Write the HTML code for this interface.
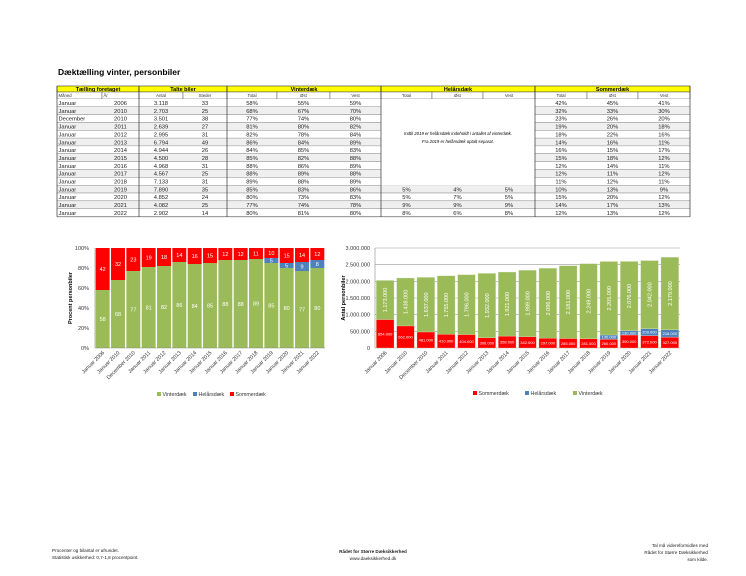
<!DOCTYPE html>
<html><head><meta charset="utf-8"><style>
html,body{margin:0;padding:0;background:#fff;}
svg{display:block;font-family:"Liberation Sans",sans-serif;}
</style></head><body>
<svg id="page" width="746" height="576" viewBox="0 0 746 576" xmlns="http://www.w3.org/2000/svg">
<text x="58" y="75" font-size="8.5" font-weight="bold">Dæktælling vinter, personbiler</text>
<g id="table"></g>
<g id="chart1"></g>
<g id="chart2"></g>
<g font-size="4.6" fill="#222">
<text x="52" y="552">Procenter og bilantal er afrundet.</text>
<text x="52" y="559">Statistisk usikkerhed: 0,7-1,8 procentpoint.</text>
<text x="373" y="553" text-anchor="middle" font-weight="bold">Rådet for Større Dæksikkerhed</text>
<text x="373" y="560" text-anchor="middle">www.daeksikkerhed.dk</text>
<text x="708" y="547" text-anchor="end">Tal må videreformidles med</text>
<text x="708" y="554" text-anchor="end">Rådet for Større Dæksikkerhed</text>
<text x="708" y="561" text-anchor="end">som kilde.</text>
</g>
</svg>
<script>
const NS="http://www.w3.org/2000/svg";
// ---- data ----
const categories=["Januar 2006","Januar 2010","December 2010","Januar 2011","Januar 2012","Januar 2013","Januar 2014","Januar 2015","Januar 2016","Januar 2017","Januar 2018","Januar 2019","Januar 2020","Januar 2021","Januar 2022"];
const months=["Januar","Januar","December","Januar","Januar","Januar","Januar","Januar","Januar","Januar","Januar","Januar","Januar","Januar","Januar"];
const years=["2006","2010","2010","2011","2012","2013","2014","2015","2016","2017","2018","2019","2020","2021","2022"];
const countedCars=["3.118","2.703","3.501","2.639","2.995","6.794","4.944","4.500","4.968","4.567","7.133","7.890","4.852","4.082","2.902"];
const places=["33","25","38","27","31","49","26","28","31","25","31","35","24","25","14"];
const winterPct=[58,68,77,81,82,86,84,85,88,88,89,85,80,77,80];
const winterEast=[55,67,74,80,78,84,85,82,86,89,88,83,73,74,81];
const winterWest=[59,70,80,82,84,89,83,88,89,88,89,86,83,78,80];
const allPct=[0,0,0,0,0,0,0,0,0,0,0,5,5,9,8];
const allEast=[0,0,0,0,0,0,0,0,0,0,0,4,7,9,6];
const allWest=[0,0,0,0,0,0,0,0,0,0,0,5,5,9,8];
const summerPct=[42,32,23,19,18,14,16,15,12,12,11,10,15,14,12];
const summerEast=[45,33,26,20,22,16,15,18,14,11,12,13,20,17,13];
const summerWest=[41,30,20,18,16,11,17,12,11,12,11,9,12,13,12];
const pctTicks=["0%","20%","40%","60%","80%","100%"];
const winterCount=[1173000,1438000,1637000,1755000,1796000,1932000,1921000,1989000,2096000,2181000,2249000,2205000,2076000,2042000,2179000];
const allCount=[0,0,0,0,0,0,0,0,0,0,0,130000,130000,209000,218000];
const summerCount=[854000,662000,481000,410000,404000,306000,358000,342000,297000,285000,281000,260000,390000,372000,327000];
const countTicks=[0,500000,1000000,1500000,2000000,2500000,3000000];

function el(tag,attrs,parent,txt){const e=document.createElementNS(NS,tag);for(const k in attrs)e.setAttribute(k,attrs[k]);if(txt!==undefined)e.textContent=txt;parent.appendChild(e);return e;}
function fmt(n){return String(n).replace(/\B(?=(\d{3})+(?!\d))/g,".");}
const GREEN="#9bbb59",RED="#ff0000",BLUE="#4f81bd";

// ---- table ----
const T=document.getElementById('table');
const cols=[57,102,139,183,227,277,330,381,432,483,535,587,638,690];
const top0=86,hh=6,sh=7,rowH=7.85,r0=top0+hh+sh;
const groups=[["Tælling foretaget",0,2],["Talte biler",2,4],["Vinterdæk",4,7],["Helårsdæk",7,10],["Sommerdæk",10,13]];
groups.forEach(g=>{
  const r=el('rect',{x:cols[g[1]],y:top0,width:cols[g[2]]-cols[g[1]],height:hh,fill:"#ffff00",stroke:"#333","stroke-width":0.6},T);
  
  
  const t=el('text',{x:(cols[g[1]]+cols[g[2]])/2,y:top0+5,"font-size":5.5,"font-weight":"bold","text-anchor":"middle"},T,g[0]);
  
  
});
const subs=["Måned","År","Antal","Steder","Total","Øst","Vest","Total","Øst","Vest","Total","Øst","Vest"];
subs.forEach((s,i)=>{
  const r=el('rect',{x:cols[i],y:top0+hh,width:cols[i+1]-cols[i],height:sh,fill:"#fff",stroke:"#555","stroke-width":0.5},T);
  
  
  const t=el('text',{x:i<2?cols[i]+1.5:(cols[i]+cols[i+1])/2,y:top0+hh+5,"font-size":4.3,"text-anchor":i<2?"start":"middle",fill:"#333"},T,s);
  
  
});
for(let r=0;r<categories.length;r++){
  const y=r0+r*rowH;
  const bg=el('rect',{x:cols[0],y:y,width:cols[13]-cols[0],height:rowH,fill:r%2?"#efefef":"#fff"},T);
  
  
  const ln=el('line',{x1:cols[0],x2:cols[13],y1:y+rowH,y2:y+rowH,stroke:"#666","stroke-width":0.8},T);
  
  
  const vals=[months[r],years[r],countedCars[r],places[r],winterPct[r]+"%",winterEast[r]+"%",winterWest[r]+"%",
    r>=11?allPct[r]+"%":"",r>=11?allEast[r]+"%":"",r>=11?allWest[r]+"%":"",summerPct[r]+"%",summerEast[r]+"%",summerWest[r]+"%"];
  vals.forEach((v,i)=>{if(v==="")return;
    const t=el('text',{x:i===0?cols[0]+1.5:(cols[i]+cols[i+1])/2,y:y+6,"font-size":5.8,"text-anchor":i===0?"start":"middle",fill:"#222"},T,v);
    
    
  });
}
const blank=el('rect',{x:cols[7],y:r0,width:cols[10]-cols[7],height:11*rowH,fill:"#fff"},T);


const n1=el('text',{x:(cols[7]+cols[10])/2,y:135,"font-size":4.3,"font-style":"italic","text-anchor":"middle"},T,"Indtil 2019 er helårsdæk indeholdt i antallet af vinterdæk.");


const n2=el('text',{x:(cols[7]+cols[10])/2,y:143,"font-size":4.3,"font-style":"italic","text-anchor":"middle"},T,"Fra 2019 er helårsdæk optalt separat.");


const bot=r0+15*rowH;
[0,2,4,7,10,13].forEach(i=>{const l=el('line',{x1:cols[i],x2:cols[i],y1:top0,y2:bot,stroke:"#333","stroke-width":0.7},T);
  
  });

// ---- chart 1 ----
(function(){
  const G=document.getElementById('chart1');
  const L=95,R=325,TOP=248,B=348;
  const y=v=>B-(v/100)*(B-TOP);
  const cw=(R-L)/categories.length;
  const x=i=>L+i*cw;
  pctTicks.forEach((t,i)=>{const v=i*20;
    const tx=el('text',{x:89,y:y(v)+2,"font-size":5.5,"text-anchor":"end",fill:"#333"},G,t);
    
    
  });
  const ax=el('line',{x1:L,x2:L,y1:TOP,y2:B,stroke:"#888","stroke-width":0.6},G);
  
  
  const yt=el('text',{transform:`translate(72,${(TOP+B)/2}) rotate(-90)`,"font-size":5.5,"font-weight":"bold","text-anchor":"middle"},G,"Procent personbiler");
  
  
  categories.forEach((c,i)=>{
    const bx=x(i)+0.7,bw=cw-1.4;
    const segs=[[winterPct[i],GREEN,'bar-winter'],[allPct[i],BLUE,'bar-all-season'],[summerPct[i],RED,'bar-summer']];
    let acc=0;
    segs.forEach(s=>{ if(s[0]<=0)return;
      const r=el('rect',{x:bx,y:y(acc+s[0]),width:bw,height:y(acc)-y(acc+s[0]),fill:s[1]},G);
      
      
      const t=el('text',{x:bx+bw/2,y:(y(acc)+y(acc+s[0]))/2+2,"font-size":5.5,"text-anchor":"middle",fill:"#fff"},G,String(s[0]));
      
      
      acc+=s[0];
    });
    const cx=x(i)+cw/2;
    const lb=el('text',{transform:`translate(${cx+2},${B+5}) rotate(-45)`,"font-size":5.3,"text-anchor":"end",fill:"#333"},G,c);
    
    
  });
  const bl=el('line',{x1:L,x2:R,y1:B,y2:B,stroke:"#888","stroke-width":0.6},G);
  
  
  [["Vinterdæk",GREEN,157],["Helårsdæk",BLUE,193],["Sommerdæk",RED,230]].forEach(l=>{
    const g=el('g',{},G);
    
    
    el('rect',{x:l[2],y:392,width:4,height:4,fill:l[1]},g);
    el('text',{x:l[2]+5.5,y:396,"font-size":5.3,fill:"#333"},g,l[0]);
  });
})();

// ---- chart 2 ----
(function(){
  const G=document.getElementById('chart2');
  const L=375,R=680,TOP=248,B=348,MAX=3000000;
  const y=v=>B-(v/MAX)*(B-TOP);
  const cw=(R-L)/categories.length;
  const x=i=>L+i*cw;
  countTicks.forEach(v=>{
    const gl=el('line',{x1:L,x2:R,y1:y(v),y2:y(v),stroke:"#999","stroke-width":0.6},G);
    
    
    const tx=el('text',{x:370,y:y(v)+2,"font-size":5.5,"text-anchor":"end",fill:"#333"},G,v===0?"0":fmt(v));
    
    
  });
  const ax=el('line',{x1:L,x2:L,y1:TOP,y2:B,stroke:"#888","stroke-width":0.6},G);
  
  
  const yt=el('text',{transform:`translate(345,${(TOP+B)/2}) rotate(-90)`,"font-size":5.5,"font-weight":"bold","text-anchor":"middle"},G,"Antal personbiler");
  
  
  categories.forEach((c,i)=>{
    const bx=x(i)+1.3,bw=cw-2.6;
    const segs=[[summerCount[i],RED,'bar-summer',0],[allCount[i],BLUE,'bar-all-season',0],[winterCount[i],GREEN,'bar-winter',1]];
    let acc=0;
    segs.forEach(s=>{ if(s[0]<=0)return;
      const r=el('rect',{x:bx,y:y(acc+s[0]),width:bw,height:y(acc)-y(acc+s[0]),fill:s[1],stroke:"#dde6c8","stroke-width":0.3},G);
      
      
      const cy=(y(acc)+y(acc+s[0]))/2;
      const t=s[3]?el('text',{transform:`translate(${bx+bw/2+2},${cy}) rotate(-90)`,"font-size":5.5,"text-anchor":"middle",fill:"#fff"},G,fmt(s[0]))
                 :el('text',{x:bx+bw/2,y:cy+1.5,"font-size":4,"text-anchor":"middle",fill:"#fff"},G,fmt(s[0]));
      
      
      acc+=s[0];
    });
    const cx=x(i)+cw/2;
    const lb=el('text',{transform:`translate(${cx+2},${B+5}) rotate(-45)`,"font-size":5.3,"text-anchor":"end",fill:"#333"},G,c);
    
    
  });
  [["Sommerdæk",RED,473],["Helårsdæk",BLUE,525],["Vinterdæk",GREEN,573]].forEach(l=>{
    const g=el('g',{},G);
    
    
    el('rect',{x:l[2],y:391,width:4,height:4,fill:l[1]},g);
    el('text',{x:l[2]+5.5,y:395,"font-size":5.3,fill:"#333"},g,l[0]);
  });
})();
</script>
</body></html>
